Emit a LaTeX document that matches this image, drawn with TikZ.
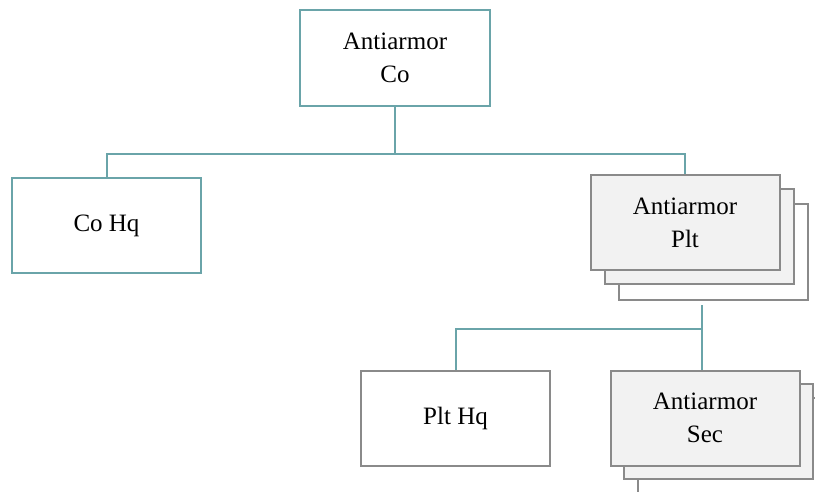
\documentclass[tikz,border=0pt]{standalone}
\usepackage{fontspec}
\setmainfont{Liberation Serif}
\definecolor{teal1}{HTML}{6AA4A9}
\definecolor{gray1}{HTML}{8A8A8A}
\definecolor{fill1}{HTML}{F2F2F2}
\begin{document}
\begin{tikzpicture}[x=1pt,y=-1pt,
  box/.style={draw, line width=2pt, minimum width=189pt, minimum height=95pt, inner sep=0pt, align=center,
    font=\fontsize{25}{33}\selectfont},
  tealbox/.style={box, draw=teal1, fill=white},
  graybox/.style={box, draw=gray1, fill=white},
  stackbox/.style={box, draw=gray1, fill=fill1},
  conn/.style={draw=teal1, line width=2pt}]
\clip (0,0) rectangle (815,492);
\useasboundingbox (0,0) rectangle (815,492);
% top
\node[tealbox, minimum width=190pt, minimum height=96pt] (co) at (395,58) {Antiarmor\\Co};
\node[tealbox] (cohq) at (106.5,225.5) {Co Hq};
% Plt stack
\node[graybox] (plt3) at (713,252) {};
\node[stackbox] (plt2) at (699,237) {};
\node[stackbox] (plt1) at (685,223) {Antiarmor\\Plt};
% level 3
\node[graybox] (plthq) at (455.5,418) {Plt Hq};
\node[graybox] (sec3) at (732.5,445) {};
\node[stackbox] (sec2) at (718.5,431) {};
\node[stackbox] (sec1) at (705,418) {Antiarmor\\Sec};
% connectors
\coordinate (j1) at (395,154);
\coordinate (p) at (702,305);
\coordinate (j2) at (702,329);
\draw[conn] (co.south) -- (j1);
\draw[conn] (cohq.north) |- (j1) -| (plt1.north);
\draw[conn] (p) -- (p |- sec1.north);
\draw[conn] (plthq.north) |- (j2);
\end{tikzpicture}
\end{document}
